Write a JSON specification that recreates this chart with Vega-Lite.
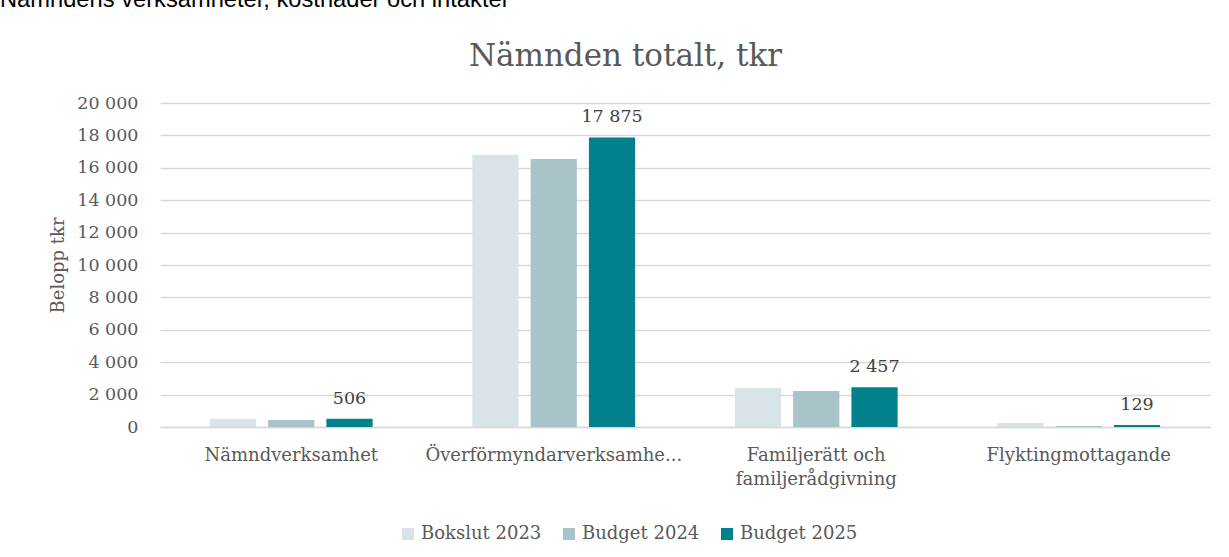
{
  "$schema": "https://vega.github.io/schema/vega-lite/v6.json",
  "width": 1050,
  "height": 324,
  "autosize": {"type": "none"},
  "padding": {"left": 160, "top": 103, "right": 19, "bottom": 130},
  "background": "white",
  "config": {
    "locale": {"number": {"decimal": ",", "thousands": " ", "grouping": [3], "currency": ["", " kr"]}},
    "view": {"stroke": null},
    "font": "DejaVu Serif"
  },
  "title": {
    "text": "Nämndens verksamheter, kostnader och intäkter",
    "anchor": "start",
    "frame": "group",
    "dx": -160,
    "dy": 15,
    "offset": 24,
    "baseline": "alphabetic",
    "font": "Liberation Sans",
    "fontSize": 23.7,
    "fontWeight": "normal",
    "color": "#000000"
  },
  "data": {
    "values": [
      {"omrade": "Nämndverksamhet", "serie": "Bokslut 2023", "belopp": 510},
      {"omrade": "Nämndverksamhet", "serie": "Budget 2024", "belopp": 430},
      {"omrade": "Nämndverksamhet", "serie": "Budget 2025", "belopp": 506},
      {"omrade": "Överförmyndarverksamhet", "serie": "Bokslut 2023", "belopp": 16800},
      {"omrade": "Överförmyndarverksamhet", "serie": "Budget 2024", "belopp": 16550},
      {"omrade": "Överförmyndarverksamhet", "serie": "Budget 2025", "belopp": 17875},
      {"omrade": "Familjerätt och familjerådgivning", "serie": "Bokslut 2023", "belopp": 2410},
      {"omrade": "Familjerätt och familjerådgivning", "serie": "Budget 2024", "belopp": 2220},
      {"omrade": "Familjerätt och familjerådgivning", "serie": "Budget 2025", "belopp": 2457},
      {"omrade": "Flyktingmottagande", "serie": "Bokslut 2023", "belopp": 250},
      {"omrade": "Flyktingmottagande", "serie": "Budget 2024", "belopp": 60},
      {"omrade": "Flyktingmottagande", "serie": "Budget 2025", "belopp": 129}
    ]
  },
  "layer": [
    {
      "mark": {"type": "bar"},
      "encoding": {
        "x": {
          "field": "omrade",
          "type": "nominal",
          "sort": ["Nämndverksamhet", "Överförmyndarverksamhet", "Familjerätt och familjerådgivning", "Flyktingmottagande"],
          "scale": {"paddingInner": 0.38, "paddingOuter": 0.19},
          "axis": {
            "orient": "bottom",
            "title": null,
            "labelAngle": 0,
            "labelFont": "DejaVu Serif",
            "labelFontSize": 18,
            "labelColor": "#595959",
            "labelPadding": 19,
            "labelLineHeight": 24,
            "labelLimit": 400,
            "ticks": false,
            "grid": false,
            "domain": true,
            "domainColor": "#d9d9d9",
            "domainWidth": 1.5,
            "labelExpr": "datum.value == 'Överförmyndarverksamhet' ? 'Överförmyndarverksamhe...' : (datum.value == 'Familjerätt och familjerådgivning' ? ['Familjerätt och', 'familjerådgivning'] : datum.value)"
          }
        },
        "xOffset": {
          "field": "serie",
          "type": "nominal",
          "sort": ["Bokslut 2023", "Budget 2024", "Budget 2025"],
          "scale": {"paddingInner": 0.207, "paddingOuter": 0}
        },
        "y": {
          "field": "belopp",
          "type": "quantitative",
          "scale": {"domain": [0, 20000], "nice": false},
          "axis": {
            "title": "Belopp tkr",
            "titleFont": "DejaVu Serif",
            "titleFontSize": 18,
            "titleFontWeight": "normal",
            "titleColor": "#595959",
            "titlePadding": 9,
            "values": [0, 2000, 4000, 6000, 8000, 10000, 12000, 14000, 16000, 18000, 20000],
            "tickCount": 20,
            "format": ",d",
            "labelOverlap": false,
            "labelFont": "DejaVu Serif",
            "labelFontSize": 17.5,
            "labelColor": "#595959",
            "labelPadding": 22,
            "ticks": false,
            "domain": false,
            "grid": true,
            "gridColor": "#d9d9d9",
            "gridWidth": 1.3
          }
        },
        "color": {
          "field": "serie",
          "type": "nominal",
          "scale": {"domain": ["Bokslut 2023", "Budget 2024", "Budget 2025"], "range": ["#d9e4e8", "#a8c4c9", "#00818c"]},
          "legend": {
            "title": null,
            "orient": "none",
            "direction": "horizontal",
            "legendX": 239,
            "legendY": 422,
            "padding": 0,
            "symbolType": "square",
            "symbolSize": 144,
            "symbolStrokeWidth": 0,
            "symbolOpacity": 1,
            "labelFont": "DejaVu Serif",
            "labelFontSize": 18,
            "labelColor": "#595959",
            "labelOffset": 4,
            "columnPadding": 18
          }
        }
      }
    },
    {
      "transform": [{"filter": "datum.serie === 'Budget 2025'"}],
      "mark": {"type": "text", "dy": -15, "baseline": "alphabetic", "font": "DejaVu Serif", "fontSize": 17.5, "color": "#404040"},
      "encoding": {
        "x": {
          "field": "omrade",
          "type": "nominal",
          "sort": ["Nämndverksamhet", "Överförmyndarverksamhet", "Familjerätt och familjerådgivning", "Flyktingmottagande"],
          "axis": {
            "orient": "top",
            "title": "Nämnden totalt, tkr",
            "titleFont": "DejaVu Serif",
            "titleFontSize": 31,
            "titleFontWeight": "normal",
            "titleColor": "#595959",
            "titlePadding": 31,
            "titleX": 465,
            "labels": false,
            "ticks": false,
            "domain": false,
            "grid": false
          }
        },
        "xOffset": {
          "field": "serie",
          "type": "nominal",
          "sort": ["Bokslut 2023", "Budget 2024", "Budget 2025"]
        },
        "y": {
          "field": "belopp",
          "type": "quantitative",
          "axis": {
            "title": "Belopp tkr",
            "titleFont": "DejaVu Serif",
            "titleFontSize": 18,
            "titleFontWeight": "normal",
            "titleColor": "#595959",
            "titlePadding": 9,
            "values": [0, 2000, 4000, 6000, 8000, 10000, 12000, 14000, 16000, 18000, 20000],
            "tickCount": 20,
            "format": ",d",
            "labelOverlap": false,
            "labelFont": "DejaVu Serif",
            "labelFontSize": 17.5,
            "labelColor": "#595959",
            "labelPadding": 22,
            "ticks": false,
            "domain": false,
            "grid": true,
            "gridColor": "#d9d9d9",
            "gridWidth": 1.3
          }
        },
        "text": {"field": "belopp", "type": "quantitative", "format": ",d"}
      }
    }
  ],
  "resolve": {"axis": {"x": "independent"}}
}
